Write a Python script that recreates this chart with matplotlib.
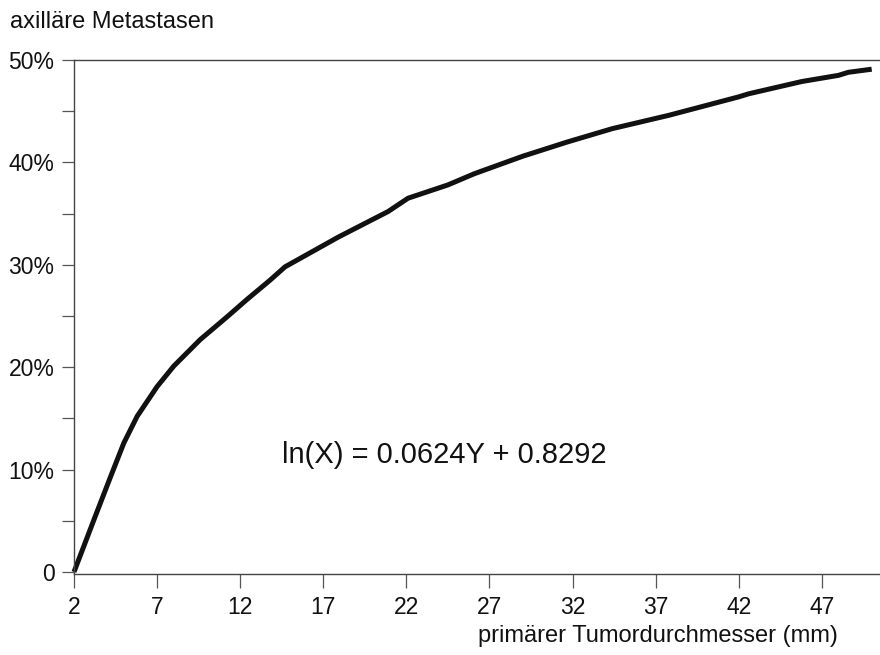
import matplotlib.pyplot as plt

plt.rcParams['font.family'] = ['Liberation Sans', 'DejaVu Sans']

# Werte: Tumordurchmesser (mm) und Anteil axillärer Metastasen (%)
diameter = [2.0, 3.2, 4.2, 5.0, 5.8, 7.0, 8.0, 9.6, 11.2, 12.4, 13.8, 14.7,
            17.9, 20.9, 22.1, 24.5, 26.1, 29.0, 31.7, 34.4, 37.8, 42.0,
            42.6, 45.8, 48.0, 48.6, 50.0]
metastases = [0.0, 5.1, 9.3, 12.6, 15.2, 18.1, 20.1, 22.7, 24.9, 26.6, 28.5, 29.8,
              32.7, 35.2, 36.5, 37.8, 38.9, 40.6, 42.0, 43.3, 44.6, 46.4,
              46.7, 47.9, 48.5, 48.8, 49.1]

x_ticks = [2, 7, 12, 17, 22, 27, 32, 37, 42, 47]
y_ticks = [0, 5, 10, 15, 20, 25, 30, 35, 40, 45, 50]
y_labels = ["0", "", "10%", "", "20%", "", "30%", "", "40%", "", "50%"]

fig = plt.figure(figsize=(8.8, 6.55), dpi=100)
ax = fig.add_axes([0.0841, 0.1237, 0.9159, 0.7847])

ax.plot(diameter, metastases, color="#111111", linewidth=3.6,
        solid_capstyle="butt", solid_joinstyle="round", clip_on=False)

ax.set_xlim(2, 50.5)
ax.set_ylim(-0.2, 50)

ax.set_xticks(x_ticks)
ax.set_xticklabels([str(t) for t in x_ticks])
ax.set_yticks(y_ticks)
ax.set_yticklabels(y_labels)

for side in ["left", "bottom", "top"]:
    ax.spines[side].set_color("#444444")
    ax.spines[side].set_linewidth(1.0)
ax.spines["right"].set_visible(False)

ax.tick_params(axis="y", direction="out", length=9, width=0.9, color="#555555",
               labelsize=16.5, pad=5, labelcolor="#111111")
ax.tick_params(axis="x", direction="out", length=10, width=0.9, color="#555555",
               labelsize=16.5, pad=6, labelcolor="#111111")

ax.text(14.5, 11.4, "ln(X) = 0.0624Y + 0.8292", fontsize=21,
        color="#111111", va="center", ha="left")

fig.text(10 / 880, 1 - 22 / 655, "axilläre Metastasen", fontsize=17,
         color="#111111", va="center", ha="left")
fig.text(838 / 880, 1 - 636 / 655, "primärer Tumordurchmesser (mm)", fontsize=17,
         color="#111111", va="center", ha="right")

fig.savefig("out.png", dpi=100)
